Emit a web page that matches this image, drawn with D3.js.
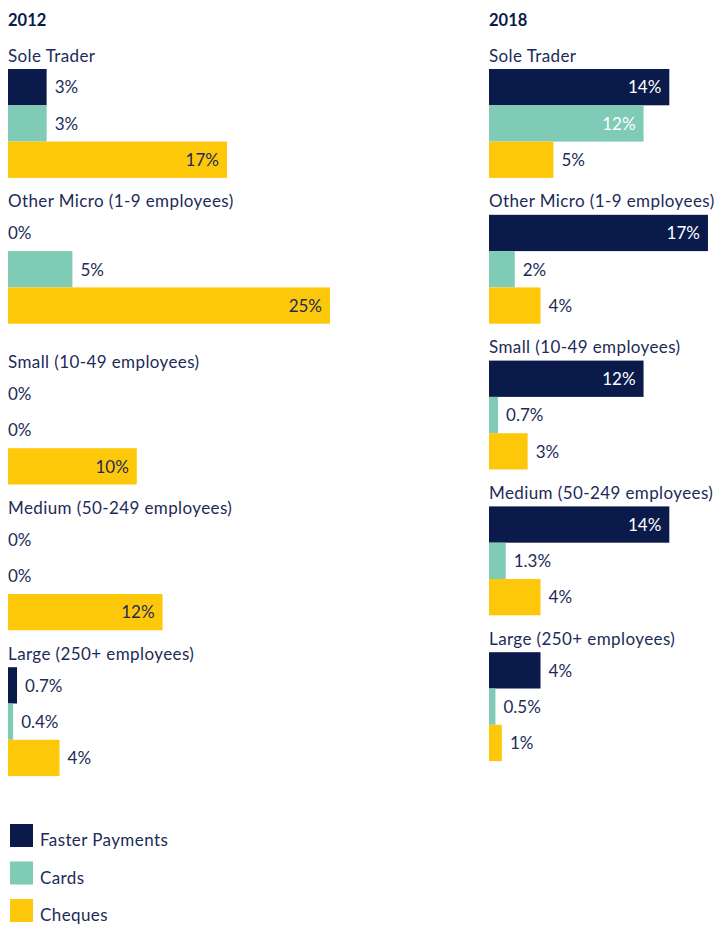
<!DOCTYPE html>
<html>
<head>
<meta charset="utf-8">
<script src="https://cdn.jsdelivr.net/npm/d3@7"></script>
<style>
  html, body { margin: 0; padding: 0; background: #fff; }
  svg { display: block; font-family: Lato, "Open Sans", sans-serif; }
</style>
</head>
<body>
<svg id="chart" width="720" height="926"></svg>
<script>
// Payment method share by business size, 2012 vs 2018
const categories = [
  "Sole Trader",
  "Other Micro (1-9 employees)",
  "Small (10-49 employees)",
  "Medium (50-249 employees)",
  "Large (250+ employees)"
];
const seriesNames = ["Faster Payments", "Cards", "Cheques"];
const years = ["2012", "2018"];

const fasterPayments2012 = [3, 0, 0, 0, 0.7];
const cards2012 = [3, 5, 0, 0, 0.4];
const cheques2012 = [17, 25, 10, 12, 4];

const fasterPayments2018 = [14, 17, 12, 14, 4];
const cards2018 = [12, 2, 0.7, 1.3, 0.5];
const cheques2018 = [5, 4, 3, 4, 1];

const colors = ["#0a1b4b", "#7fcbb6", "#fec80a"];
const textColor = "#1c2b57";

const panels = [
  { year: years[0], x0: 8, series: [fasterPayments2012, cards2012, cheques2012], extraAfter: 1, extra: 15 },
  { year: years[1], x0: 489, series: [fasterPayments2018, cards2018, cheques2018], extraAfter: null, extra: 0 }
];

const svg = d3.select("#chart");
const fontSize = 17;
const tracking = 0.4;

// shared horizontal scale for both years
const x = d3.scaleLinear().domain([0, 25]).range([0, 322]);

const rowH = 36.3;
const groupStep = 145.8;
const firstRow = 69;

// vertical positions of the three bars inside a group
const yRow = d3.scaleBand().domain(seriesNames).range([0, rowH * 3]).padding(0);

const fmt = v => `${v}%`;

panels.forEach(p => {
  const g = svg.append("g").attr("transform", `translate(${p.x0},0)`);

  g.append("text")
    .attr("x", 0).attr("y", 25.5)
    .attr("fill", "#0a1b4b")
    .attr("font-weight", 700)
    .attr("font-size", 16.5)
    .text(p.year);

  categories.forEach((cat, i) => {
    const top = firstRow + i * groupStep + (p.extraAfter !== null && i > p.extraAfter ? p.extra : 0);
    const grp = g.append("g").attr("transform", `translate(0,${top})`);

    grp.append("text")
      .attr("x", 0).attr("y", -7.5)
      .attr("fill", textColor)
      .attr("font-size", fontSize)
      .attr("letter-spacing", tracking)
      .text(cat);

    const rows = seriesNames.map((s, k) => ({ s, k, v: p.series[k][i] }));

    grp.selectAll("rect")
      .data(rows.filter(d => d.v > 0))
      .join("rect")
      .attr("x", 0)
      .attr("y", d => yRow(d.s))
      .attr("width", d => x(d.v))
      .attr("height", yRow.bandwidth())
      .attr("fill", d => colors[d.k]);

    grp.selectAll("text.val")
      .data(rows)
      .join("text")
      .attr("class", "val")
      .attr("font-size", fontSize)
      .attr("y", d => yRow(d.s) + yRow.bandwidth() / 2 + 6.3)
      .attr("x", d => d.v >= 10 ? x(d.v) - 8 : (d.v === 0 ? 0 : x(d.v) + 8))
      .attr("text-anchor", d => d.v >= 10 ? "end" : "start")
      .attr("fill", d => d.v >= 10 && d.k < 2 ? "#ffffff" : textColor)
      .text(d => fmt(d.v));
  });
});

// legend
const legend = svg.append("g").attr("transform", "translate(10,824)");
const legendItems = legend.selectAll("g")
  .data(seriesNames)
  .join("g")
  .attr("transform", (d, i) => `translate(0,${i * 37.5})`);
legendItems.append("rect")
  .attr("width", 23).attr("height", 23)
  .attr("fill", (d, i) => colors[i]);
legendItems.append("text")
  .attr("x", 30).attr("y", 22)
  .attr("fill", textColor)
  .attr("font-size", fontSize)
  .attr("letter-spacing", tracking)
  .text(d => d);
</script>
</body>
</html>
